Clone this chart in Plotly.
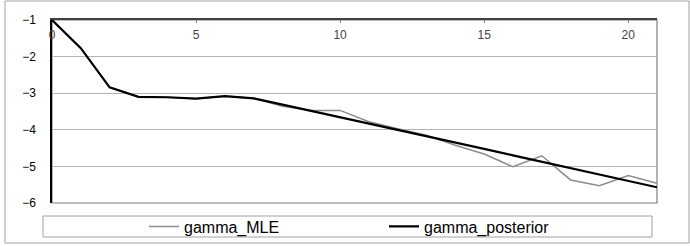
import plotly.graph_objects as go

x_vals = list(range(22))
gamma_mle = [-1.0, -1.77, -2.84, -3.10, -3.11, -3.15, -3.08, -3.14, -3.36, -3.47, -3.47,
             -3.78, -3.97, -4.15, -4.42, -4.66, -5.01, -4.71, -5.37, -5.53, -5.25, -5.46]
gamma_posterior = [-1.0, -1.77, -2.84, -3.10, -3.11, -3.15, -3.08, -3.14, -3.31, -3.48, -3.65,
                   -3.82, -3.99, -4.17, -4.35, -4.52, -4.70, -4.87, -5.04, -5.21, -5.39, -5.57]
x_ticks = [0, 5, 10, 15, 20]
y_ticks = [-1, -2, -3, -4, -5, -6]

W, H = 690, 246
L, R, T, B = 52, 657, 20, 203

def px(x):
    return (x - L) / (R - L)

def py(y):
    return (B - y) / (B - T)

fig = go.Figure()
fig.add_trace(go.Scatter(x=x_vals, y=gamma_mle, mode="lines", name="gamma_MLE",
                         line=dict(color="#8c8c8c", width=1.5)))
fig.add_trace(go.Scatter(x=x_vals, y=gamma_posterior, mode="lines", name="gamma_posterior",
                         line=dict(color="#000000", width=2.2)))

fig.update_layout(
    width=W, height=H,
    margin=dict(l=L, r=W - R, t=T, b=H - B, pad=0, autoexpand=False),
    paper_bgcolor="white", plot_bgcolor="white",
    font=dict(family="Liberation Sans, Arial, sans-serif", size=12, color="#000"),
    showlegend=True,
    legend=dict(orientation="h", x=px(144), xanchor="left", y=py(226.5), yanchor="middle",
                entrywidth=195, entrywidthmode="pixels", font=dict(size=16),
                bgcolor="rgba(0,0,0,0)", borderwidth=0, itemwidth=30),
    xaxis=dict(range=[0, 21], side="top", tickvals=x_ticks, ticks="inside", ticklen=3,
               tickcolor="#808080", ticklabelposition="inside", ticklabeloverflow="allow",
               ticklabelstandoff=7, showgrid=False,
               zeroline=False, showline=True, linecolor="#404040", linewidth=1.5,
               fixedrange=True),
    yaxis=dict(range=[-6, -1], tickvals=y_ticks, ticks="", showgrid=True,
               gridcolor="#b4b4b4", gridwidth=1, zeroline=False, showline=True,
               linecolor="#000", linewidth=1.5, ticklabelstandoff=12,
               ticklabeloverflow="allow", fixedrange=True),
    shapes=[
        dict(type="rect", xref="paper", yref="paper", x0=0, x1=1, y0=0, y1=1,
             line=dict(color="#808080", width=1.2), layer="below"),
        dict(type="rect", xref="paper", yref="paper", x0=px(43), x1=px(652),
             y0=py(237), y1=py(216), line=dict(color="#a0a0a0", width=1)),
        dict(type="rect", xref="paper", yref="paper", x0=px(5), x1=px(689),
             y0=py(243), y1=py(1), line=dict(color="#a0a0a0", width=1)),
    ],
)

fig.write_html("out.html")
